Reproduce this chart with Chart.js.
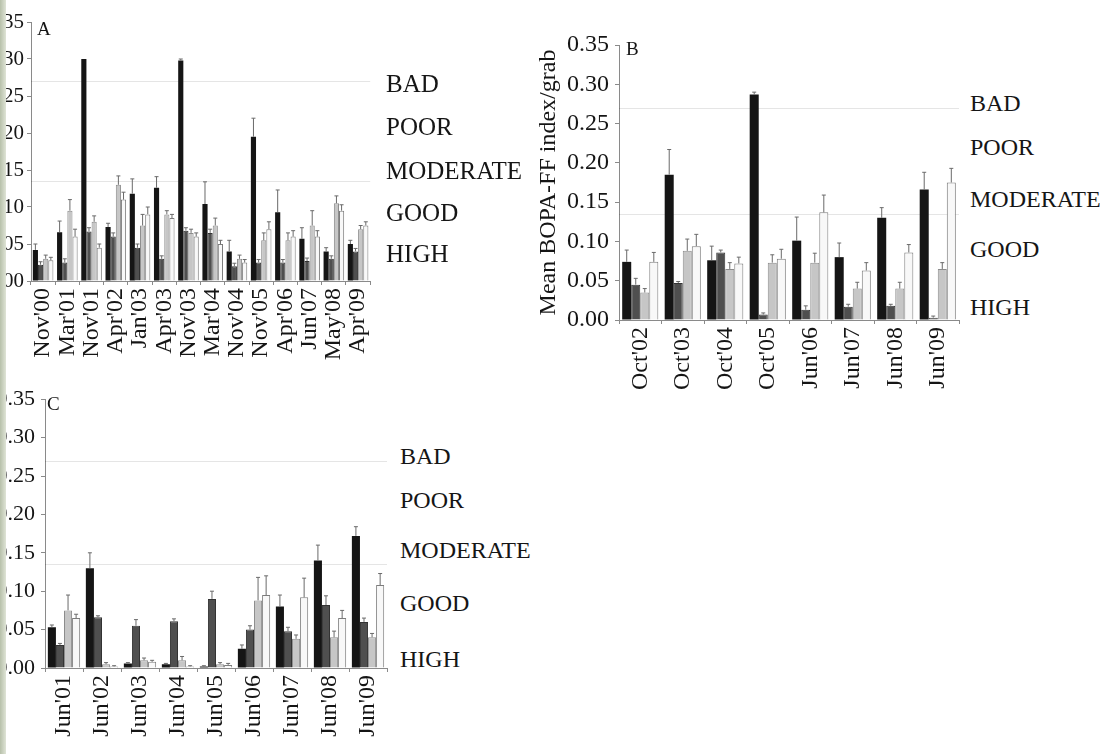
<!DOCTYPE html>
<html>
<head>
<meta charset="utf-8">
<script src="https://cdn.jsdelivr.net/npm/chart.js@4.4.0/dist/chart.umd.min.js"></script>
<style>
  body { margin: 0; width: 1100px; height: 754px; overflow: hidden; background: #fff; position: relative; font-family: "Liberation Serif", serif; }
  .panel { position: absolute; }
  .lab { position: absolute; font-size: 24px; line-height: 24px; color: #151515; }
  #labelsA .lab { font-size: 25px; }
  .letter { position: absolute; font-size: 19px; color: #151515; }
  .strip { position: absolute; left: 0; top: 0; width: 6px; height: 754px; background: linear-gradient(90deg, #b7c0aa, #dfe4d6); }
</style>
</head>
<body>
<div class="panel" style="left:-20px;top:0"><canvas id="chartA" width="410" height="380"></canvas></div>
<div class="panel" style="left:520px;top:0"><canvas id="chartB" width="450" height="420"></canvas></div>
<div class="panel" style="left:-15px;top:380px"><canvas id="chartC" width="415" height="374"></canvas></div>

<div class="letter" style="left:37px;top:18px">A</div>
<div class="letter" style="left:626px;top:38px">B</div>
<div class="letter" style="left:47px;top:393px">C</div>

<div id="labelsA"></div>
<div id="labelsB"></div>
<div id="labelsC"></div>
<div class="strip"></div>

<script>
// status classes shown to the right of each panel
const statusNames = ["BAD", "POOR", "MODERATE", "GOOD", "HIGH"];
const yTicks = [0, 0.05, 0.10, 0.15, 0.20, 0.25, 0.30, 0.35];
const thresholds = [0.27, 0.135];

// Panel A
const labelsA = ["Nov'00","Mar'01","Nov'01","Apr'02","Jan'03","Apr'03","Nov'03","Mar'04","Nov'04","Nov'05","Apr'06","Jun'07","May'08","Apr'09"];
const aBlack = [0.042, 0.066, 0.300, 0.073, 0.118, 0.126, 0.298, 0.104, 0.040, 0.195, 0.093, 0.057, 0.040, 0.050];
const aDark  = [0.022, 0.025, 0.067, 0.060, 0.045, 0.030, 0.068, 0.065, 0.020, 0.025, 0.025, 0.027, 0.030, 0.040];
const aLight = [0.030, 0.095, 0.080, 0.130, 0.075, 0.090, 0.065, 0.075, 0.030, 0.055, 0.055, 0.075, 0.105, 0.070];
const aWhite = [0.028, 0.060, 0.045, 0.110, 0.090, 0.085, 0.060, 0.050, 0.025, 0.070, 0.060, 0.060, 0.095, 0.075];
const aBlackErr = [0.008, 0.015, 0.000, 0.005, 0.020, 0.015, 0.002, 0.030, 0.015, 0.025, 0.030, 0.015, 0.005, 0.005];
const aDarkErr  = [0.004, 0.005, 0.005, 0.005, 0.005, 0.004, 0.004, 0.005, 0.004, 0.004, 0.004, 0.004, 0.004, 0.004];
const aLightErr = [0.005, 0.015, 0.008, 0.012, 0.015, 0.005, 0.005, 0.010, 0.005, 0.010, 0.010, 0.020, 0.010, 0.005];
const aWhiteErr = [0.004, 0.010, 0.005, 0.010, 0.010, 0.005, 0.005, 0.005, 0.004, 0.010, 0.008, 0.008, 0.008, 0.005];

// Panel B
const labelsB = ["Oct'02","Oct'03","Oct'04","Oct'05","Jun'06","Jun'07","Jun'08","Jun'09"];
const bBlack = [0.074, 0.185, 0.076, 0.287, 0.101, 0.080, 0.130, 0.166];
const bDark  = [0.045, 0.047, 0.086, 0.007, 0.013, 0.017, 0.018, 0.003];
const bLight = [0.035, 0.088, 0.065, 0.073, 0.073, 0.040, 0.040, 0.065];
const bWhite = [0.074, 0.094, 0.072, 0.078, 0.137, 0.063, 0.086, 0.175];
const bBlackErr = [0.015, 0.032, 0.018, 0.003, 0.030, 0.018, 0.013, 0.022];
const bDarkErr  = [0.008, 0.002, 0.003, 0.002, 0.005, 0.003, 0.002, 0.002];
const bLightErr = [0.005, 0.015, 0.008, 0.010, 0.012, 0.008, 0.008, 0.008];
const bWhiteErr = [0.012, 0.015, 0.008, 0.012, 0.022, 0.010, 0.010, 0.018];

// Panel C
const labelsC = ["Jun'01","Jun'02","Jun'03","Jun'04","Jun'05","Jun'06","Jun'07","Jun'08","Jun'09"];
const cBlack = [0.053, 0.130, 0.006, 0.005, 0.002, 0.025, 0.080, 0.140, 0.172];
const cDark  = [0.030, 0.066, 0.055, 0.061, 0.090, 0.050, 0.048, 0.082, 0.060];
const cLight = [0.075, 0.005, 0.010, 0.010, 0.005, 0.088, 0.038, 0.040, 0.040];
const cWhite = [0.065, 0.002, 0.008, 0.002, 0.004, 0.095, 0.092, 0.065, 0.108];
const cBlackErr = [0.003, 0.020, 0.001, 0.001, 0.001, 0.005, 0.015, 0.020, 0.012];
const cDarkErr  = [0.002, 0.002, 0.008, 0.003, 0.010, 0.005, 0.005, 0.012, 0.005];
const cLightErr = [0.020, 0.002, 0.003, 0.005, 0.002, 0.030, 0.005, 0.008, 0.005];
const cWhiteErr = [0.005, 0.001, 0.002, 0.001, 0.002, 0.025, 0.025, 0.010, 0.015];

const styles = [
  { bg: "#151515", border: "#151515" },
  { bg: "#4f4f4f", border: "#333333" },
  { bg: "#c6c6c6", border: "#8c8c8c" },
  { bg: "#f8f8f8", border: "#7c7c7c" }
];

// error bars drawn from the err arrays through the y scale
const errorBars = {
  id: "errorBars",
  afterDatasetsDraw(chart) {
    const ctx = chart.ctx, y = chart.scales.y;
    chart.data.datasets.forEach((ds, i) => {
      chart.getDatasetMeta(i).data.forEach((bar, j) => {
        const e = ds.err[j];
        if (!e) return;
        const top = y.getPixelForValue(ds.data[j] + e);
        ctx.save();
        ctx.strokeStyle = "#6a6a6a";
        ctx.lineWidth = 1;
        ctx.beginPath();
        ctx.moveTo(bar.x, bar.y);
        ctx.lineTo(bar.x, top);
        ctx.moveTo(bar.x - 2, top);
        ctx.lineTo(bar.x + 2, top);
        ctx.stroke();
        ctx.restore();
      });
    });
  }
};

// faint status boundary lines
const boundaryLines = {
  id: "boundaryLines",
  beforeDatasetsDraw(chart) {
    const ctx = chart.ctx, y = chart.scales.y, a = chart.chartArea;
    ctx.save();
    ctx.strokeStyle = "rgba(0,0,0,0.10)";
    ctx.lineWidth = 1;
    thresholds.forEach(t => {
      const py = Math.round(y.getPixelForValue(t)) + 0.5;
      ctx.beginPath();
      ctx.moveTo(a.left, py);
      ctx.lineTo(a.right, py);
      ctx.stroke();
    });
    ctx.restore();
  }
};

function makePanel(id, labels, values, errs, o) {
  const datasets = values.map((v, i) => ({
    data: v,
    err: errs[i],
    backgroundColor: styles[i].bg,
    borderColor: styles[i].border,
    borderWidth: i === 0 ? 0 : 1,
    categoryPercentage: o.cat,
    barPercentage: 1.0
  }));
  return new Chart(document.getElementById(id), {
    type: "bar",
    data: { labels: labels, datasets: datasets },
    plugins: [boundaryLines, errorBars],
    options: {
      responsive: false,
      animation: false,
      layout: { padding: { top: o.top, right: o.right, left: 0, bottom: 0 } },
      plugins: { legend: { display: false }, tooltip: { enabled: false } },
      scales: {
        x: {
          grid: { display: true, drawOnChartArea: false, tickLength: 4, color: "#8a8a8a", offset: true },
          border: { color: "#8a8a8a" },
          ticks: {
            color: "#151515",
            font: { family: "Liberation Serif", size: 24 },
            minRotation: 90, maxRotation: 90, autoSkip: false, padding: 3
          },
          afterFit: s => { s.height = o.xh; }
        },
        y: {
          min: 0, max: 0.35,
          afterBuildTicks: s => { s.ticks = yTicks.map(v => ({ value: v })); },
          ticks: {
            color: "#151515",
            font: { family: "Liberation Serif", size: o.tick },
            padding: o.tickPad,
            callback: v => v.toFixed(2)
          },
          grid: { drawOnChartArea: false, tickLength: 4, color: "#8a8a8a" },
          border: { color: "#8a8a8a" },
          title: {
            display: !!o.title,
            text: o.title || "",
            color: "#151515",
            font: { family: "Liberation Serif", size: 24 },
            padding: { top: 14, bottom: 0 }
          },
          afterFit: s => { s.width = o.yw; }
        }
      }
    }
  });
}

makePanel("chartA", labelsA, [aBlack, aDark, aLight, aWhite], [aBlackErr, aDarkErr, aLightErr, aWhiteErr],
  { cat: 0.85, top: 22, right: 3, xh: 99, yw: 51, tick: 21, tickPad: 3 });
makePanel("chartB", labelsB, [bBlack, bDark, bLight, bWhite], [bBlackErr, bDarkErr, bLightErr, bWhiteErr],
  { cat: 0.85, top: 45, right: 7, xh: 100, yw: 99, tick: 24, tickPad: 6, title: "Mean BOPA-FF index/grab" });
makePanel("chartC", labelsC, [cBlack, cDark, cLight, cWhite], [cBlackErr, cDarkErr, cLightErr, cWhiteErr],
  { cat: 0.85, top: 18, right: 3, xh: 86, yw: 60, tick: 22, tickPad: 6 });

// status labels beside each panel
function placeLabels(elId, left, centers) {
  const box = document.getElementById(elId);
  statusNames.forEach((name, i) => {
    const d = document.createElement("div");
    d.className = "lab";
    d.style.left = left + "px";
    d.style.top = (centers[i] - 12) + "px";
    d.textContent = name;
    box.appendChild(d);
  });
}
placeLabels("labelsA", 386, [84, 127, 171, 213, 254]);
placeLabels("labelsB", 970, [103, 147, 199, 249, 307]);
placeLabels("labelsC", 400, [456, 500, 550, 603, 659]);
</script>
</body>
</html>
